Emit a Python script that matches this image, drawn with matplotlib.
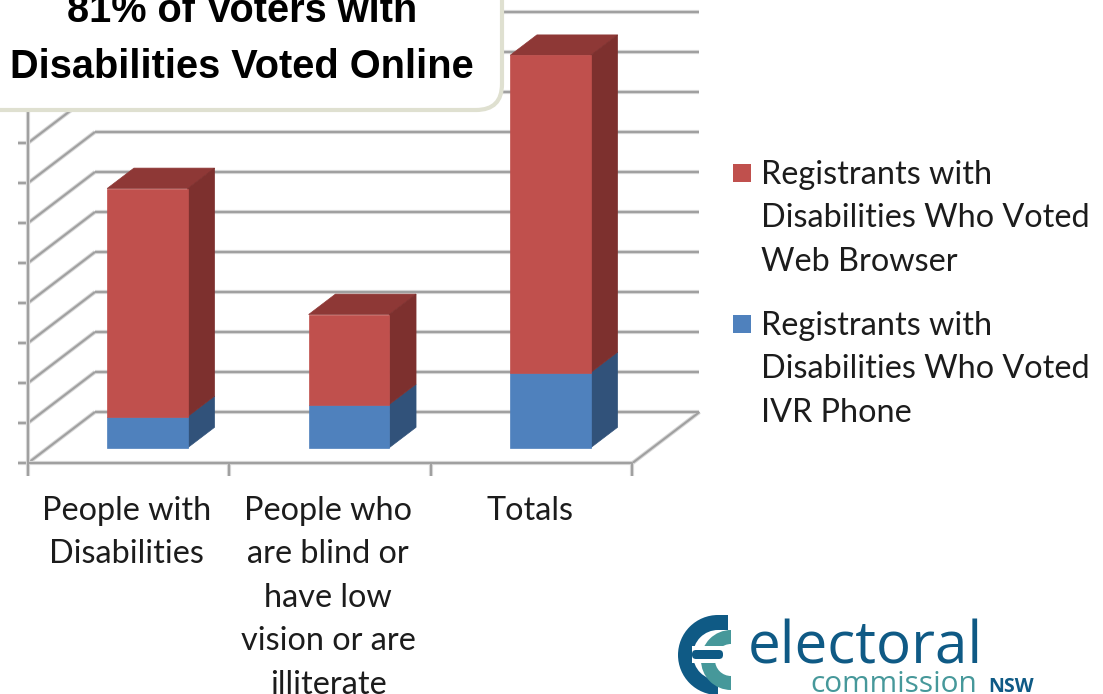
import matplotlib
matplotlib.use("Agg")
import matplotlib.pyplot as plt
from matplotlib.patches import Polygon, Rectangle, FancyBboxPatch, Wedge
from matplotlib.transforms import Affine2D, blended_transform_factory

# chart values
categories = ["People with\nDisabilities",
              "People who\nare blind or\nhave low\nvision or are\nilliterate",
              "Totals"]
ivr_phone = [78, 108, 188]
web_browser = [570, 225, 793]
y_ticks = [0, 100, 200, 300, 400, 500, 600, 700, 800, 900, 1000]
legend_labels = ["Registrants with\nDisabilities Who Voted\nWeb Browser",
                 "Registrants with\nDisabilities Who Voted\nIVR Phone"]
title = "81% of Voters with\nDisabilities Voted Online"

W, H = 1103, 694
GRID_DARK = "#a0a0a0"
GRID_LIGHT = "#d8d8d8"
TEXT = "#1c1c1c"

fig = plt.figure(figsize=(W / 100, H / 100), dpi=100)
ax = fig.add_axes([0, 0, 1, 1])
# one category is 201.5 px wide, 100 on the value scale is 40 px
ax.set_xlim(-28 / 201.5, (W - 28) / 201.5)
ax.set_ylim((463 - H) / 0.4, 463 / 0.4)
ax.axis("off")

# image pixels, y going down, for the things that are not data
px = Affine2D().scale(1, -1).translate(0, H)
x_data_y_px = blended_transform_factory(ax.transData, px)

DEPTH_X = 67 / 201.5
DEPTH_Y = 51 / 0.4


def proj(x, v, d):
    # oblique projection, d is 0 at the front of the floor and 1 at the back wall
    return x + d * DEPTH_X, v + d * DEPTH_Y


def soft_line(xs, ys, zorder=1):
    ax.plot(xs, ys, color=GRID_LIGHT, lw=3, zorder=zorder, solid_capstyle="butt")
    ax.plot(xs, ys, color=GRID_DARK, lw=1.5, zorder=zorder + 0.1, solid_capstyle="butt")


n = len(categories)

# back wall and left wall
for v in y_ticks:
    x0, y0 = proj(0, v, 1)
    x1, y1 = proj(n, v, 1)
    soft_line([x0, x1], [y0, y1])
    x2, y2 = proj(0, v, 0)
    soft_line([x2, x0], [y2, y0])
    soft_line([x2 - 10 / 201.5, x2], [y2, y2])

# floor and axes
x3, y3 = proj(n, 0, 1)
soft_line([n, x3], [0, y3])
soft_line([0, n], [0, 0], zorder=2)
soft_line([0, 0], [0, y_ticks[-1]], zorder=2)
for i in range(n + 1):
    soft_line([i, i], [0, -13 / 0.4], zorder=2)


def box(left, bottom, top, front, side, lid=None, z=3):
    right = left + 0.4
    d0, d1 = 0.3, 0.7
    if lid is not None:
        ax.add_patch(Polygon([proj(left, top, d0), proj(right, top, d0),
                              proj(right, top, d1), proj(left, top, d1)],
                             facecolor=lid, edgecolor=lid, lw=0.5, zorder=z))
    ax.add_patch(Polygon([proj(right, bottom, d0), proj(right, bottom, d1),
                          proj(right, top, d1), proj(right, top, d0)],
                         facecolor=side, edgecolor=side, lw=0.5, zorder=z))
    ax.add_patch(Polygon([proj(left, bottom, d0), proj(right, bottom, d0),
                          proj(right, top, d0), proj(left, top, d0)],
                         facecolor=front, edgecolor=front, lw=0.5, zorder=z + 0.1))


for i in range(n):
    box(i + 0.293, 0, ivr_phone[i], "#4f81bd", "#31527a")
    box(i + 0.293, ivr_phone[i], ivr_phone[i] + web_browser[i],
        "#c0504d", "#7d302e", lid="#8e3836")

# category labels
for i, lab in enumerate(categories):
    ax.text(i + 0.49, 496, lab, transform=x_data_y_px, ha="center", va="top",
            family="Lato", fontsize=23.3, color=TEXT, linespacing=1.56)

# legend
for y, col, lab in zip([164, 315], ["#c0504d", "#4f81bd"], legend_labels):
    ax.add_patch(Rectangle((733, y), 18, 18, transform=px, facecolor=col,
                           edgecolor="none", zorder=5))
    ax.text(761, y - 4, lab, transform=px, ha="left", va="top",
            family="Lato", fontsize=23.3, color=TEXT, linespacing=1.56)

# call-out box
ax.add_patch(FancyBboxPatch((-60, -60), 562, 170, transform=px,
                            boxstyle="round,pad=0,rounding_size=26",
                            facecolor="white", edgecolor="#dfe0d0", lw=3, zorder=6))
ax.text(242, 39, title, transform=px, ha="center", va="center",
        family="Liberation Sans", fontweight="bold",
        fontsize=28.6, color="black", linespacing=1.6, zorder=7)

# logo
DARK = "#0f5a85"
TEAL = "#46989a"
ax.add_patch(Wedge((718, 655), 40, 90, 270, width=15, transform=px,
                   facecolor=DARK, edgecolor="none", zorder=5))
ax.add_patch(Rectangle((718, 615), 10, 15, transform=px, facecolor=DARK,
                       edgecolor="none", zorder=5))
ax.add_patch(Wedge((731, 660), 30, 90, 270, width=14, transform=px,
                   facecolor=TEAL, edgecolor="none", zorder=5))
ax.add_patch(Rectangle((692, 646), 38, 17, transform=px, facecolor="white",
                       edgecolor="none", zorder=5.1))
ax.add_patch(FancyBboxPatch((692, 650), 31, 9, transform=px,
                            boxstyle="round,pad=0,rounding_size=4",
                            facecolor=DARK, edgecolor="none", zorder=5.2))
ax.text(748, 663, "electoral", transform=px, ha="left", va="baseline",
        family="Open Sans", fontsize=42, color=DARK)
ax.text(810, 692, "commission", transform=px, ha="left", va="baseline",
        family="Open Sans", fontsize=21.5, color=TEAL)
ax.text(988, 692, "NSW", transform=px, ha="left", va="baseline",
        family="Open Sans", fontweight="bold", fontsize=14, color=DARK)

fig.savefig("out.png", dpi=100)
